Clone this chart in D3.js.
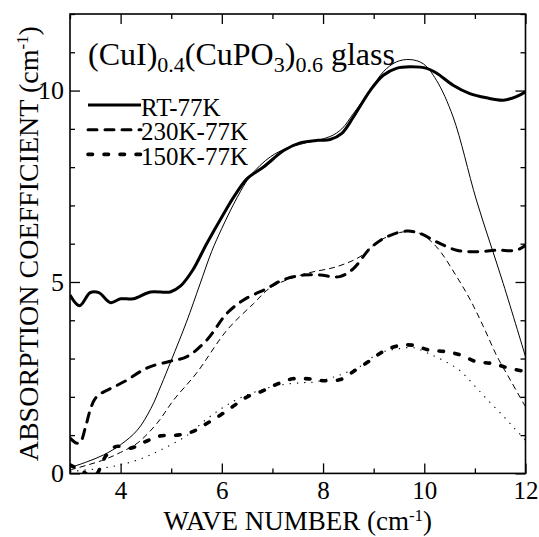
<!DOCTYPE html>
<html>
<head>
<meta charset="utf-8">
<script src="https://cdnjs.cloudflare.com/ajax/libs/d3/7.8.5/d3.min.js"></script>
<style>
  body { margin: 0; background: #fff; }
  svg { display: block; font-family: 'Liberation Serif', 'Times New Roman', serif; }
</style>
</head>
<body>
<div id="chart"></div>
<script>
// measured difference spectra (thick) and fitted curves (thin)
var rtX = [3.0, 3.19, 3.4, 3.57, 3.8, 4.0, 4.25, 4.59, 4.98, 5.18, 5.42, 5.7, 6.0, 6.25, 6.5, 6.83, 7.23, 7.56, 7.9, 8.14, 8.37, 8.6, 8.93, 9.19, 9.45, 9.72, 10.05, 10.24, 10.57, 10.9, 11.23, 11.56, 11.82, 12.0];
var rtY = [4.66, 4.38, 4.72, 4.72, 4.46, 4.56, 4.56, 4.74, 4.74, 4.89, 5.3, 6.0, 6.7, 7.25, 7.7, 8.01, 8.44, 8.64, 8.7, 8.72, 8.88, 9.31, 10.0, 10.4, 10.58, 10.62, 10.58, 10.46, 10.14, 9.92, 9.81, 9.75, 9.84, 9.97];

var rtFitX = [3.0, 3.33, 3.66, 4.0, 4.33, 4.6, 4.8, 5.0, 5.3, 5.57, 5.8, 6.0, 6.3, 6.57, 6.96, 7.3, 7.62, 8.14, 8.37, 8.6, 8.93, 9.19, 9.45, 9.72, 9.98, 10.24, 10.57, 11.03, 11.56, 12.0];
var rtFitY = [0.15, 0.3, 0.48, 0.75, 1.13, 1.7, 2.3, 2.95, 3.95, 4.95, 5.8, 6.4, 7.2, 7.78, 8.27, 8.5, 8.62, 8.8, 9.0, 9.4, 10.0, 10.49, 10.75, 10.81, 10.7, 10.27, 9.31, 7.14, 4.96, 3.05];

var k230X = [3.0, 3.13, 3.2, 3.3, 3.4, 3.5, 3.64, 3.87, 4.13, 4.39, 4.59, 4.98, 5.31, 5.7, 6.1, 6.43, 6.89, 7.2, 7.61, 7.94, 8.33, 8.6, 8.93, 9.26, 9.65, 9.91, 10.24, 10.64, 11.03, 11.43, 11.82, 12.0];
var k230Y = [0.92, 0.79, 0.8, 1.18, 1.66, 1.96, 2.11, 2.26, 2.44, 2.66, 2.79, 2.93, 3.05, 3.48, 4.18, 4.53, 4.83, 5.05, 5.18, 5.18, 5.14, 5.35, 5.88, 6.18, 6.33, 6.27, 6.05, 5.83, 5.79, 5.83, 5.83, 5.96];

var k230FitX = [3.0, 3.66, 4.0, 4.33, 4.72, 5.05, 5.5, 6.1, 6.63, 6.96, 7.61, 8.27, 8.73, 9.13, 9.59, 9.91, 10.24, 10.64, 10.91, 11.17, 11.44, 11.7, 12.0];
var k230FitY = [0.09, 0.35, 0.55, 0.79, 1.31, 1.92, 2.62, 3.74, 4.44, 4.85, 5.2, 5.4, 5.66, 6.09, 6.31, 6.27, 5.92, 5.14, 4.53, 3.83, 3.05, 2.44, 1.74];

var k150X = [3.0, 3.25, 3.45, 3.54, 3.7, 3.9, 4.2, 4.49, 4.79, 5.12, 5.42, 5.71, 5.97, 6.24, 6.5, 6.8, 7.09, 7.4, 7.72, 8.03, 8.36, 8.62, 8.91, 9.17, 9.47, 9.77, 10.1, 10.43, 10.72, 11.02, 11.35, 11.64, 12.0];
var k150Y = [0.22, 0.05, -0.1, 0.0, 0.44, 0.7, 0.66, 0.83, 0.98, 1.0, 1.09, 1.31, 1.52, 1.77, 2.0, 2.15, 2.33, 2.47, 2.47, 2.42, 2.46, 2.68, 2.93, 3.17, 3.33, 3.35, 3.22, 3.18, 3.09, 2.92, 2.87, 2.76, 2.66];

var k150FitX = [3.0, 3.8, 4.33, 4.79, 5.32, 5.68, 6.0, 6.34, 6.87, 7.26, 7.62, 7.85, 8.22, 8.41, 8.74, 9.1, 9.47, 9.8, 10.07, 10.36, 10.69, 10.98, 11.25, 11.51, 11.78, 12.0];
var k150FitY = [0.05, 0.17, 0.35, 0.61, 1.0, 1.4, 1.7, 1.96, 2.22, 2.33, 2.37, 2.39, 2.52, 2.61, 2.8, 3.14, 3.25, 3.28, 3.14, 2.96, 2.7, 2.31, 1.92, 1.57, 1.18, 0.87];

var legendLabels = ['RT-77K', '230K-77K', '150K-77K'];
var xLabelTicks = [4, 6, 8, 10, 12];
var xMinorTicks = [3, 5, 7, 9, 11];
var yLabelTicks = [0, 5, 10];
var yMinorTicks = [1, 2, 3, 4, 6, 7, 8, 9, 11, 12];

var svgWidth = 539;
var svgHeight = 537;
var margin = { top: 14, right: 13.5, bottom: 63.6, left: 70 };
var chartWidth = svgWidth - margin.left - margin.right;
var chartHeight = svgHeight - margin.top - margin.bottom;

var svg = d3.select('#chart')
  .append('svg')
  .attr('width', svgWidth)
  .attr('height', svgHeight);

var chartGroup = svg.append('g')
  .attr('transform', `translate(${margin.left}, ${margin.top})`);

var xScale = d3.scaleLinear().domain([3, 12]).range([0, chartWidth]);
var yScale = d3.scaleLinear().domain([0, 12]).range([chartHeight, 0]);

svg.append('defs').append('clipPath')
  .attr('id', 'plot-clip')
  .append('rect')
  .attr('width', chartWidth)
  .attr('height', chartHeight);

// axes: ticks point inward, long ones at labelled values
function addAxis(axisFn, values, size, transform, labels) {
  var g = chartGroup.append('g')
    .attr('transform', transform)
    .call(axisFn.tickValues(values).tickSize(-size).tickFormat(labels ? d3.format('d') : ''));
  g.select('.domain').remove();
  g.selectAll('line').attr('stroke', '#000').attr('stroke-width', 1.3);
  return g;
}

var xAxis = addAxis(d3.axisBottom(xScale), xLabelTicks, 10, `translate(0, ${chartHeight})`, true);
addAxis(d3.axisBottom(xScale), xMinorTicks, 5, `translate(0, ${chartHeight})`, false);
addAxis(d3.axisTop(xScale), xLabelTicks, 10, 'translate(0, 0)', false);
addAxis(d3.axisTop(xScale), xMinorTicks, 5, 'translate(0, 0)', false);

var yAxis = addAxis(d3.axisLeft(yScale), yLabelTicks, 10, 'translate(0, 0)', true);
addAxis(d3.axisLeft(yScale), yMinorTicks, 5, 'translate(0, 0)', false);
addAxis(d3.axisRight(yScale), yLabelTicks, 10, `translate(${chartWidth}, 0)`, false);
addAxis(d3.axisRight(yScale), yMinorTicks, 5, `translate(${chartWidth}, 0)`, false);

xAxis.selectAll('text')
  .attr('y', 26)
  .attr('dy', 0)
  .attr('font-size', '25px')
  .attr('font-family', 'Liberation Serif, serif')
  .attr('fill', '#000');

yAxis.selectAll('text')
  .attr('x', -6)
  .attr('dy', '0.32em')
  .attr('font-size', '26px')
  .attr('font-family', 'Liberation Serif, serif')
  .attr('fill', '#000');

// curves
var series = [
  { xs: rtX, ys: rtY, width: 3, dash: null },
  { xs: rtFitX, ys: rtFitY, width: 1, dash: null },
  { xs: k230X, ys: k230Y, width: 3, dash: '9,8' },
  { xs: k230FitX, ys: k230FitY, width: 1, dash: '6,4' },
  { xs: k150X, ys: k150Y, width: 3.6, dash: '4.5,11.5' },
  { xs: k150FitX, ys: k150FitY, width: 1.1, dash: '1.3,6' }
];

var line = d3.line()
  .x(d => xScale(d[0]))
  .y(d => yScale(d[1]))
  .curve(d3.curveCatmullRom.alpha(0.5));

var curveGroup = chartGroup.append('g').attr('clip-path', 'url(#plot-clip)');

series.forEach(function(s) {
  var pts = s.xs.map((x, i) => [x, s.ys[i]]);
  curveGroup.append('path')
    .datum(pts)
    .attr('d', line)
    .attr('fill', 'none')
    .attr('stroke', '#000')
    .attr('stroke-width', s.width)
    .attr('stroke-linecap', s.dash && s.width > 2 ? 'round' : 'butt')
    .attr('stroke-dasharray', s.dash);
});

// frame
chartGroup.append('rect')
  .attr('width', chartWidth)
  .attr('height', chartHeight)
  .attr('fill', 'none')
  .attr('stroke', '#000')
  .attr('stroke-width', 1.6);

// legend
var legendStyles = [series[0], series[2], series[4]];
var legend = svg.append('g');
legendLabels.forEach(function(label, i) {
  var ly = 105 + i * 24.7;
  legend.append('line')
    .attr('x1', 88).attr('x2', 141)
    .attr('y1', ly).attr('y2', ly)
    .attr('stroke', '#000')
    .attr('stroke-width', legendStyles[i].width)
    .attr('stroke-linecap', legendStyles[i].dash ? 'round' : 'butt')
    .attr('stroke-dasharray', legendStyles[i].dash);
  legend.append('text')
    .attr('x', 141)
    .attr('y', ly + 10.5)
    .attr('font-size', '25px')
    .attr('fill', '#000')
    .text(label);
});

// sample title with subscripts
var title = svg.append('text')
  .attr('x', 88)
  .attr('y', 65)
  .attr('font-size', '32px')
  .attr('fill', '#000');
[['(CuI)', 0], ['0.4', 1], ['(CuPO', 0], ['3', 1], [')', 0], ['0.6', 1], [' glass', 0]].forEach(function(p) {
  title.append('tspan')
    .attr('font-size', p[1] ? '22px' : '32px')
    .attr('y', p[1] ? 72 : 65)
    .text(p[0]);
});

// axis titles
var xTitle = svg.append('text')
  .attr('x', margin.left + chartWidth / 2)
  .attr('y', 529.5)
  .attr('text-anchor', 'middle')
  .attr('font-size', '27px')
  .attr('fill', '#000');
xTitle.append('tspan').text('WAVE NUMBER (cm');
xTitle.append('tspan').attr('font-size', '17px').attr('dy', -9).text('-1');
xTitle.append('tspan').attr('dy', 9).text(')');

var yTitle = svg.append('text')
  .attr('transform', `translate(38, ${margin.top + chartHeight / 2}) rotate(-90)`)
  .attr('text-anchor', 'middle')
  .attr('font-size', '28px')
  .attr('fill', '#000');
yTitle.append('tspan').text('ABSORPTION COEFFICIENT (cm');
yTitle.append('tspan').attr('font-size', '17px').attr('dy', -10).text('-1');
yTitle.append('tspan').attr('dy', 10).text(')');
</script>
</body>
</html>
